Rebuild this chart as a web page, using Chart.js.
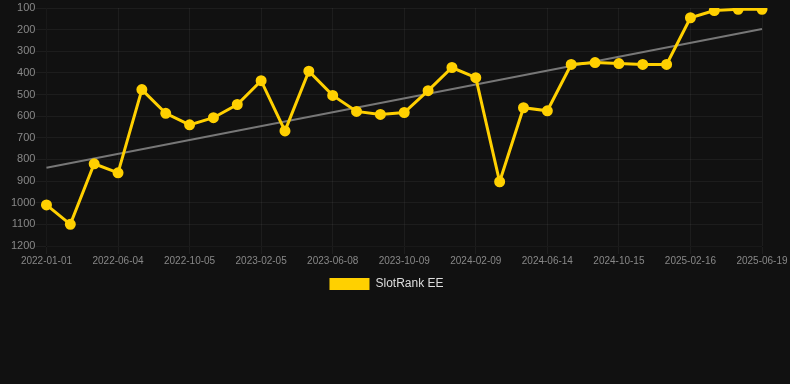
<!DOCTYPE html>
<html>
<head>
<meta charset="utf-8">
<script src="https://cdn.jsdelivr.net/npm/chart.js@4"></script>
<style>
    html, body { margin: 0; padding: 0; background: #111111; }
    #wrap { width: 790px; height: 300px; position: relative; }
</style>
</head>
<body>
<div id="wrap"><canvas id="chart"></canvas></div>
<script>
// 日期標籤
const dates = [
    '2022-01-01', '2022-02-21', '2022-04-13', '2022-06-04', '2022-07-15', '2022-08-25',
    '2022-10-05', '2022-11-15', '2022-12-26', '2023-02-05', '2023-03-18', '2023-04-28',
    '2023-06-08', '2023-07-19', '2023-08-29', '2023-10-09', '2023-11-19', '2023-12-30',
    '2024-02-09', '2024-03-21', '2024-05-03', '2024-06-14', '2024-07-25', '2024-09-04',
    '2024-10-15', '2024-11-25', '2025-01-05', '2025-02-16', '2025-03-29', '2025-05-09',
    '2025-06-19'
];

// 排名數據
const rankValues = [
    1010, 1100, 820, 862, 477, 587, 640, 607, 546, 436, 668, 392,
    504, 578, 592, 583, 482, 375, 422, 903, 561, 575, 361, 352,
    357, 361, 361, 145, 112, 106, 106
];

// 趨勢線端點
const trendValues = [838].concat(new Array(29).fill(null), [197]);

// Y 軸範圍
const rankMin = 100;
const rankMax = 1200;

document.addEventListener('DOMContentLoaded', function() {
    initializeLineChart();
});

function initializeLineChart() {
    const ctx = document.getElementById('chart').getContext('2d');

    new Chart(ctx, {
        type: 'line',
        data: {
            labels: dates,
            datasets: [{
                label: 'SlotRank EE',
                data: rankValues,
                borderColor: '#ffd000',
                backgroundColor: '#ffd000',
                borderWidth: 3,
                pointRadius: 4,
                pointHoverRadius: 5,
                tension: 0
            }, {
                label: 'trend',
                data: trendValues,
                borderColor: '#777777',
                borderWidth: 2,
                pointRadius: 0,
                spanGaps: true,
                tension: 0
            }]
        },
        options: {
            responsive: true,
            maintainAspectRatio: false,
            animation: false,
            layout: {
                padding: { left: 11, right: 28 }
            },
            plugins: {
                legend: {
                    position: 'bottom',
                    labels: {
                        color: '#dddddd',
                        font: { size: 12 },
                        boxWidth: 40,
                        boxHeight: 12,
                        filter: function(item) { return item.text !== 'trend'; },
                        generateLabels: function(chart) {
                            const items = Chart.defaults.plugins.legend.labels.generateLabels(chart);
                            items.forEach(function(it) { it.lineWidth = 0; });
                            return items;
                        }
                    }
                },
                tooltip: { enabled: true }
            },
            scales: {
                x: {
                    grid: { color: 'rgba(255,255,255,0.05)' },
                    ticks: {
                        color: '#888888',
                        font: { size: 10 },
                        padding: 1,
                        maxRotation: 0,
                        autoSkip: true,
                        maxTicksLimit: 11
                    }
                },
                y: {
                    reverse: true,
                    min: rankMin,
                    max: rankMax,
                    grid: { color: 'rgba(255,255,255,0.05)', tickLength: 11 },
                    ticks: {
                        color: '#888888',
                        font: { size: 11 },
                        padding: 0,
                        stepSize: 100,
                        callback: function(v) { return String(v); }
                    }
                }
            }
        }
    });
}
</script>
</body>
</html>
